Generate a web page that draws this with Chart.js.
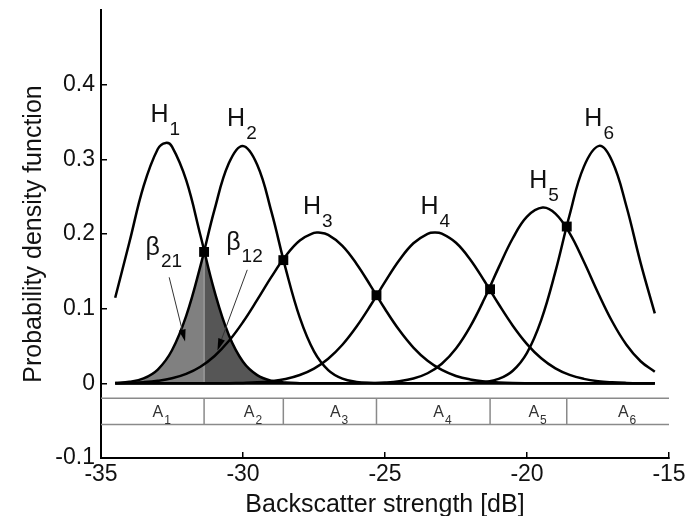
<!DOCTYPE html>
<html>
<head>
<meta charset="utf-8">
<title>Backscatter strength PDFs</title>
<script src="https://cdn.jsdelivr.net/npm/chart.js@4"></script>
<style>
  html, body { margin: 0; padding: 0; background: #fff; }
  #wrap { width: 685px; height: 516px; }
</style>
</head>
<body>
<div id="wrap"><canvas id="c" width="685" height="516"></canvas></div>
<script>
// Backscatter strength grid [dB]
const dbGrid = [-34.5, -34, -33.5, -33, -32.5, -32, -31.5, -31, -30.5, -30, -29.5, -29, -28.5, -28, -27.5,
  -27, -26.5, -26, -25.5, -25, -24.5, -24, -23.5, -23, -22.5, -22, -21.5, -21, -20.5, -20, -19.5,
  -19, -18.5, -18, -17.5, -17, -16.5, -16, -15.5];

// Probability density of each class H1..H6 on the grid
const pdfH1 = [0.1147, 0.1889, 0.2641, 0.3139, 0.3170, 0.2720, 0.1983, 0.1228, 0.0647, 0.0289, 0.0110, 0.0035, 0.0010, 0.0002, 0,
  0, 0, 0, 0, 0, 0, 0, 0, 0, 0, 0, 0, 0, 0, 0, 0, 0, 0, 0, 0, 0, 0, 0, 0];
const pdfH2 = [0.0005, 0.0020, 0.0066, 0.0185, 0.0443, 0.0903, 0.1570, 0.2329, 0.2946, 0.3180, 0.2928, 0.2299, 0.1540, 0.0880, 0.0429,
  0.0178, 0.0063, 0.0019, 0.0005, 0.0001, 0, 0, 0, 0, 0, 0, 0, 0, 0, 0, 0, 0, 0, 0, 0, 0, 0, 0, 0];
const pdfH3 = [0.0003, 0.0007, 0.0016, 0.0034, 0.0067, 0.0126, 0.0222, 0.0366, 0.0566, 0.0821, 0.1117, 0.1425, 0.1705, 0.1914, 0.2014,
  0.1988, 0.1841, 0.1599, 0.1303, 0.0995, 0.0713, 0.0479, 0.0302, 0.0179, 0.0099, 0.0052, 0.0025, 0.0012, 0.0005, 0.0002, 0.0001,
  0, 0, 0, 0, 0, 0, 0, 0];
const pdfH4 = [0, 0, 0, 0, 0, 0, 0, 0.0001, 0.0002, 0.0006, 0.0013, 0.0029, 0.0058, 0.0111, 0.0197,
  0.0330, 0.0517, 0.0761, 0.1049, 0.1358, 0.1648, 0.1876, 0.2003, 0.2005, 0.1883, 0.1659, 0.1370, 0.1062, 0.0772, 0.0526, 0.0336,
  0.0201, 0.0113, 0.0060, 0.0029, 0.0014, 0.0006, 0.0002, 0.0001];
const pdfH5 = [0, 0, 0, 0, 0, 0, 0, 0, 0, 0, 0, 0, 0, 0, 0,
  0, 0, 0.0001, 0.0004, 0.0011, 0.0028, 0.0064, 0.0135, 0.0262, 0.0466, 0.0759, 0.1132, 0.1550, 0.1943, 0.2234, 0.2354,
  0.2273, 0.2012, 0.1632, 0.1214, 0.0828, 0.0517, 0.0296, 0.0155];
const pdfH6 = [0, 0, 0, 0, 0, 0, 0, 0, 0, 0, 0, 0, 0, 0, 0,
  0, 0, 0, 0, 0, 0, 0, 0, 0, 0.0001, 0.0005, 0.0018, 0.0059, 0.0169, 0.0409, 0.0847,
  0.1496, 0.2255, 0.2899, 0.3178, 0.2973, 0.2372, 0.1614, 0.0937];

// Mode (peak) of each class: position [dB] and density
const peakDb = [-32.72, -30.01, -27.35, -23.24, -19.45, -17.46];
const peakPdf = [0.322, 0.318, 0.202, 0.202, 0.2355, 0.318];

// Decision thresholds between neighbouring classes and the pdf value where they cross
const boundaryDb = [-31.37, -28.58, -25.30, -21.30, -18.60];
const crossPdf = [0.176, 0.165, 0.118, 0.126, 0.210];

// Class and region names
const classSubs = ['1', '2', '3', '4', '5', '6'];
const regionSubs = ['1', '2', '3', '4', '5', '6'];

// Axis ticks
const xTickValues = [-35, -30, -25, -20, -15];
const yTickValues = [-0.1, 0, 0.1, 0.2, 0.3, 0.4];

// ---- layout / style ----
const FONT = '"Liberation Sans", Arial, Helvetica, sans-serif';
const X_MIN = -35, X_MAX = -15, Y_MIN = -0.1, Y_MAX = 0.5;
const BAND_TOP = -0.02, BAND_BOTTOM = -0.055;

// Label anchors (left edge / baseline, in data units)
const classLabelPos = [
  { x: -33.26, y: 0.350 }, { x: -30.56, y: 0.345 }, { x: -27.89, y: 0.227 },
  { x: -23.75, y: 0.227 }, { x: -19.92, y: 0.261 }, { x: -17.98, y: 0.344 }
];
const betaLabels = [
  { sub: '21', x: -33.43, y: 0.1722 },
  { sub: '12', x: -30.59, y: 0.1789 }
];
const betaArrows = [
  { from: { x: -32.60, y: 0.142 }, to: { x: -32.04, y: 0.056 } },
  { from: { x: -29.85, y: 0.152 }, to: { x: -30.90, y: 0.044 } }
];

const toPoints = (xs, ys) => xs.map((x, i) => ({ x, y: ys[i] }));

// grid samples of one class with its mode merged in (grid samples right at the mode are replaced)
function classPoints(ys, k) {
  const pts = toPoints(dbGrid, ys).filter(p => Math.abs(p.x - peakDb[k]) > 0.1);
  pts.push({ x: peakDb[k], y: peakPdf[k] });
  return pts.sort((a, b) => a.x - b.x);
}
const curves = [pdfH1, pdfH2, pdfH3, pdfH4, pdfH5, pdfH6].map(classPoints);

// Misclassification areas around the first threshold
const split = boundaryDb[0];
const splitPdf = crossPdf[0];
const beta21Area = curves[1].filter(p => p.x < split).concat([{ x: split, y: splitPdf }]);
const beta12Area = [{ x: split, y: splitPdf }].concat(curves[0].filter(p => p.x > split));

const datasets = [];

// table of decision regions
const bandLine = (pts) => ({
  type: 'line', data: pts, borderColor: '#8a8a8a', borderWidth: 1.5,
  pointRadius: 0, tension: 0, fill: false, order: 5
});
datasets.push(bandLine([{ x: X_MIN, y: BAND_TOP }, { x: X_MAX, y: BAND_TOP }]));
datasets.push(bandLine([{ x: X_MIN, y: BAND_BOTTOM }, { x: X_MAX, y: BAND_BOTTOM }]));
boundaryDb.forEach(b => datasets.push(bandLine([{ x: b, y: BAND_TOP }, { x: b, y: BAND_BOTTOM }])));

// shaded error areas
datasets.push({
  type: 'line', data: beta21Area, borderWidth: 0, borderColor: 'rgba(0,0,0,0)',
  backgroundColor: '#808080', fill: 'origin', pointRadius: 0, tension: 0.4, order: 4
});
datasets.push({
  type: 'line', data: beta12Area, borderWidth: 0, borderColor: 'rgba(0,0,0,0)',
  backgroundColor: '#565656', fill: 'origin', pointRadius: 0, tension: 0.4, order: 4
});
datasets.push({
  type: 'line', data: [{ x: split, y: 0 }, { x: split, y: splitPdf }], borderColor: '#a8a8a8',
  borderWidth: 1, pointRadius: 0, tension: 0, fill: false, order: 3
});

// class pdf curves
curves.forEach((pts, k) => datasets.push({
  type: 'line', label: 'H' + classSubs[k], data: pts,
  borderColor: '#000', borderWidth: 2.5, pointRadius: 0, tension: 0.4, fill: false, order: 1
}));

// threshold markers
datasets.push({
  type: 'scatter', data: toPoints(boundaryDb, crossPdf), pointStyle: 'rect',
  pointRadius: 7, backgroundColor: '#000', borderWidth: 0, order: 0
});

// draws subscripted labels and arrows
function subText(ctx, base, sub, x, y, size, subSize, drop, color) {
  ctx.fillStyle = color;
  ctx.textAlign = 'left';
  ctx.textBaseline = 'alphabetic';
  ctx.font = size + 'px ' + FONT;
  ctx.fillText(base, x, y);
  const w = ctx.measureText(base).width;
  ctx.font = subSize + 'px ' + FONT;
  ctx.fillText(sub, x + w + 1, y + drop);
}

const annotate = {
  id: 'annotate',
  afterDatasetsDraw(chart) {
    const { ctx, scales: { x: xs, y: ys } } = chart;
    ctx.save();

    // region names A1..A6, left-aligned at each cell centre
    const edges = [X_MIN].concat(boundaryDb, [X_MAX]);
    for (let i = 0; i < regionSubs.length; i++) {
      const mid = (edges[i] + edges[i + 1]) / 2;
      subText(ctx, 'A', regionSubs[i], xs.getPixelForValue(mid), ys.getPixelForValue(-0.0455),
        16, 12, 7, '#333');
    }

    // class names
    classLabelPos.forEach((p, i) => {
      subText(ctx, 'H', classSubs[i], xs.getPixelForValue(p.x), ys.getPixelForValue(p.y), 25, 19, 13, '#111');
    });

    // beta labels
    betaLabels.forEach(p => {
      subText(ctx, '\u03B2', p.sub, xs.getPixelForValue(p.x), ys.getPixelForValue(p.y), 25, 19, 12, '#111');
    });

    // arrows
    betaArrows.forEach(a => {
      const x1 = xs.getPixelForValue(a.from.x), y1 = ys.getPixelForValue(a.from.y);
      const x2 = xs.getPixelForValue(a.to.x), y2 = ys.getPixelForValue(a.to.y);
      const ang = Math.atan2(y2 - y1, x2 - x1);
      const len = 12, half = 3.5;
      const bx = x2 - len * Math.cos(ang), by = y2 - len * Math.sin(ang);
      ctx.strokeStyle = '#333';
      ctx.lineWidth = 1;
      ctx.beginPath();
      ctx.moveTo(x1, y1);
      ctx.lineTo(bx, by);
      ctx.stroke();
      ctx.fillStyle = '#000';
      ctx.beginPath();
      ctx.moveTo(x2, y2);
      ctx.lineTo(bx + half * Math.sin(ang), by - half * Math.cos(ang));
      ctx.lineTo(bx - half * Math.sin(ang), by + half * Math.cos(ang));
      ctx.closePath();
      ctx.fill();
    });

    ctx.restore();
  }
};

const fixScale = (size) => (scale) => {
  if (scale.isHorizontal()) scale.height = size; else scale.width = size;
  scale.paddingLeft = 0; scale.paddingRight = 0; scale.paddingTop = 0; scale.paddingBottom = 0;
};

new Chart(document.getElementById('c'), {
  type: 'line',
  data: { datasets },
  plugins: [annotate],
  options: {
    responsive: false,
    devicePixelRatio: 1,
    animation: false,
    events: [],
    layout: { padding: { top: 10, right: 16, bottom: 0, left: 0 } },
    plugins: { legend: { display: false }, tooltip: { enabled: false } },
    scales: {
      x: {
        type: 'linear', min: X_MIN, max: X_MAX,
        afterBuildTicks: (s) => { s.ticks = xTickValues.map(v => ({ value: v })); },
        afterFit: fixScale(58),
        ticks: { callback: (v) => String(v), font: { family: FONT, size: 23 }, color: '#111', padding: 9, maxRotation: 0, autoSkip: false },
        grid: { drawOnChartArea: false, drawTicks: true, tickLength: -6, color: '#000', lineWidth: 1.5 },
        border: { display: true, color: '#000', width: 2 },
        title: { display: true, text: 'Backscatter strength [dB]', color: '#111',
          font: { family: FONT, size: 25, lineHeight: 0.8 }, padding: { top: 0, bottom: 1 } }
      },
      y: {
        type: 'linear', min: Y_MIN, max: Y_MAX,
        afterBuildTicks: (s) => { s.ticks = yTickValues.map(v => ({ value: v })); },
        afterFit: fixScale(101),
        ticks: { callback: (v) => String(v), font: { family: FONT, size: 23 }, color: '#111', padding: 12, autoSkip: false },
        grid: { drawOnChartArea: false, drawTicks: true, tickLength: -6, color: '#000', lineWidth: 1.5 },
        border: { display: true, color: '#000', width: 2 },
        title: { display: true, text: 'Probability density function', color: '#111',
          font: { family: FONT, size: 25, lineHeight: 1.2 }, padding: { top: 19, bottom: 0 } }
      }
    }
  }
});
</script>
</body>
</html>
